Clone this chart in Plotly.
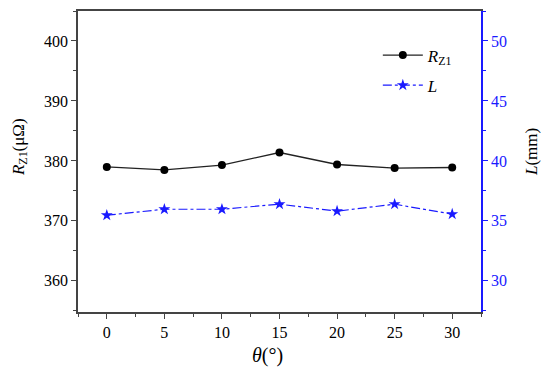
import plotly.graph_objects as go

theta = [0, 5, 10, 15, 20, 25, 30]
rz1 = [379.0, 378.5, 379.3, 381.4, 379.4, 378.8, 378.9]
length = [35.47, 35.97, 35.97, 36.39, 35.81, 36.39, 35.56]

FONT = "'Times New Roman', 'Liberation Serif', 'DejaVu Serif', serif"
AX = "#444444"
BLUE = "#1a1aff"

fig = go.Figure()
fig.add_trace(go.Scatter(
    x=theta, y=rz1, name="<i>R</i><sub>Z1</sub>", mode="lines+markers",
    legendgroup="a",
    line=dict(color="#222222", width=1.3),
    marker=dict(symbol="circle", size=8, color="black"),
))
fig.add_trace(go.Scatter(
    x=theta, y=length, name="<i>L</i>", mode="lines+markers", yaxis="y2",
    legendgroup="b",
    line=dict(color=BLUE, width=1.2, dash="dashdot"),
    marker=dict(symbol="star", size=9, color=BLUE),
))

# page body has an 8px default margin, so the figure is sized 542x371
fig.update_layout(
    width=542, height=371,
    margin=dict(l=70, r=69, t=3, b=67),
    paper_bgcolor="white", plot_bgcolor="white",
    font=dict(family=FONT, size=16, color="black"),
    showlegend=True,
    legend=dict(x=0.744, y=0.912, xanchor="left", yanchor="top",
                bgcolor="rgba(0,0,0,0)", font=dict(size=17, family=FONT),
                traceorder="grouped", tracegroupgap=5, itemwidth=40),
    xaxis=dict(
        range=[-2.5, 32.5], tickvals=theta, ticks="outside", ticklen=5,
        tickcolor=AX, linecolor=AX, linewidth=1.5, mirror=True, showgrid=False,
        zeroline=False, automargin=False,
        minor=dict(ticks="outside", ticklen=3, tickcolor=AX, dtick=2.5, tick0=0),
        tickfont=dict(size=16, family=FONT),
    ),
    yaxis=dict(
        range=[354.8, 405], tickvals=[360, 370, 380, 390, 400], ticks="outside",
        ticklen=5, tickcolor=AX, linecolor=AX, linewidth=1.5, showgrid=False,
        zeroline=False, automargin=False,
        minor=dict(ticks="outside", ticklen=3, tickcolor=AX, dtick=5, tick0=0),
        tickfont=dict(size=16, family=FONT),
    ),
    yaxis2=dict(
        overlaying="y", side="right",
        range=[27.4, 52.5], tickvals=[30, 35, 40, 45, 50], ticks="outside",
        ticklen=5, tickcolor=BLUE, linecolor=BLUE, linewidth=1.5, showgrid=False,
        zeroline=False, automargin=False,
        minor=dict(ticks="outside", ticklen=3, tickcolor=BLUE, dtick=2.5, tick0=0),
        tickfont=dict(size=16, family=FONT, color=BLUE),
    ),
    annotations=[
        dict(text="<i>R</i><sub>Z1</sub>(μΩ)", xref="paper", yref="paper",
             x=-0.144, y=0.548, xanchor="center", yanchor="middle",
             textangle=-90, showarrow=False,
             font=dict(size=17, family=FONT, color="black")),
        dict(text="<i>L</i>(mm)", xref="paper", yref="paper",
             x=1.127, y=0.532, xanchor="center", yanchor="middle",
             textangle=-90, showarrow=False,
             font=dict(size=17, family=FONT, color="black")),
        dict(text="<i>θ</i>(°)", xref="paper", yref="paper",
             x=0.469, y=-0.146, xanchor="center", yanchor="middle",
             showarrow=False,
             font=dict(size=20, family=FONT, color="black")),
    ],
)

fig.write_html("out.html")
